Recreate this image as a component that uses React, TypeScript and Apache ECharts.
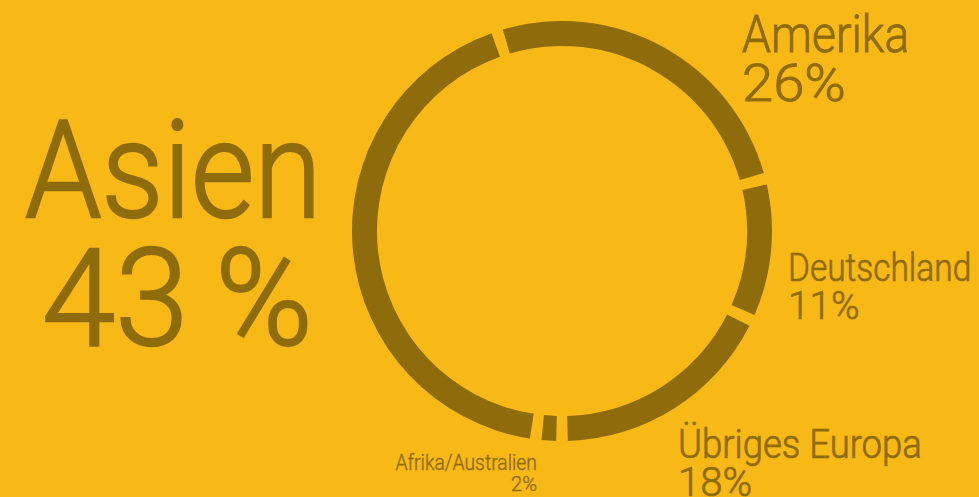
import React, { useEffect, useRef } from "react";
import * as echarts from "echarts";

// Data
const categories: string[] = ["Amerika", "Deutschland", "Übriges Europa", "Afrika/Australien", "Asien"];
const shares: number[] = [26, 11, 18, 2, 43];
const valueSeparators: string[] = ["", "", "", "", "\u2009"];

// Label layout (positions/sizes only)
const labelX: number[] = [742, 788, 678, 537, 25];
const nameY: number[] = [34, 268, 444, 463, 171];
const valueY: number[] = [83, 306, 482, 484, 299];
const nameSize: number[] = [52, 38, 41, 22, 136];
const valueSize: number[] = [52, 38, 41, 20, 136];
const nameScale: number[] = [0.89, 0.88, 0.89, 0.88, 0.9];
const valueScale: number[] = [1.08, 1.02, 0.98, 1.0, 0.97];
const valueXOffset: number[] = [0, 0, 0, 0, 17];
const labelAlign: string[] = ["left", "left", "left", "right", "left"];

const BG = "#F8B816";
const DARK = "#8F6C0B";
const STROKE_RATIO = 0.018;

export default function App() {
  const ref = useRef<HTMLDivElement>(null);

  useEffect(() => {
    document.body.style.margin = "0";
    document.body.style.background = BG;
    const chart = echarts.init(ref.current!, null, { renderer: "svg" });

    const graphics: any[] = [];
    categories.forEach((name, i) => {
      graphics.push({
        type: "text",
        x: labelX[i],
        y: nameY[i],
        scaleX: nameScale[i],
        silent: true,
        style: {
          text: name,
          fill: DARK,
          stroke: DARK,
          lineWidth: nameSize[i] * STROKE_RATIO,
          font: `300 ${nameSize[i]}px Roboto`,
          textAlign: labelAlign[i],
          textVerticalAlign: "middle",
        },
      });
      graphics.push({
        type: "text",
        x: labelX[i] + valueXOffset[i],
        y: valueY[i],
        scaleX: valueScale[i],
        silent: true,
        style: {
          text: `${shares[i]}${valueSeparators[i]}%`,
          fill: DARK,
          stroke: DARK,
          lineWidth: valueSize[i] * STROKE_RATIO,
          font: `300 ${valueSize[i]}px Roboto`,
          textAlign: labelAlign[i],
          textVerticalAlign: "middle",
        },
      });
    });

    chart.setOption({
      animation: false,
      backgroundColor: BG,
      graphic: graphics,
      series: [
        {
          type: "pie",
          center: [562, 231],
          radius: [185, 210],
          startAngle: 108,
          clockwise: true,
          padAngle: 3.2,
          silent: true,
          label: { show: false },
          labelLine: { show: false },
          itemStyle: { color: DARK, borderWidth: 0 },
          emphasis: { disabled: true },
          data: categories.map((name, i) => ({ name, value: shares[i] })),
        },
      ],
    });

    return () => chart.dispose();
  }, []);

  return (
    <div
      ref={ref}
      style={{ position: "fixed", left: 0, top: 0, width: "979px", height: "497px" }}
    />
  );
}
